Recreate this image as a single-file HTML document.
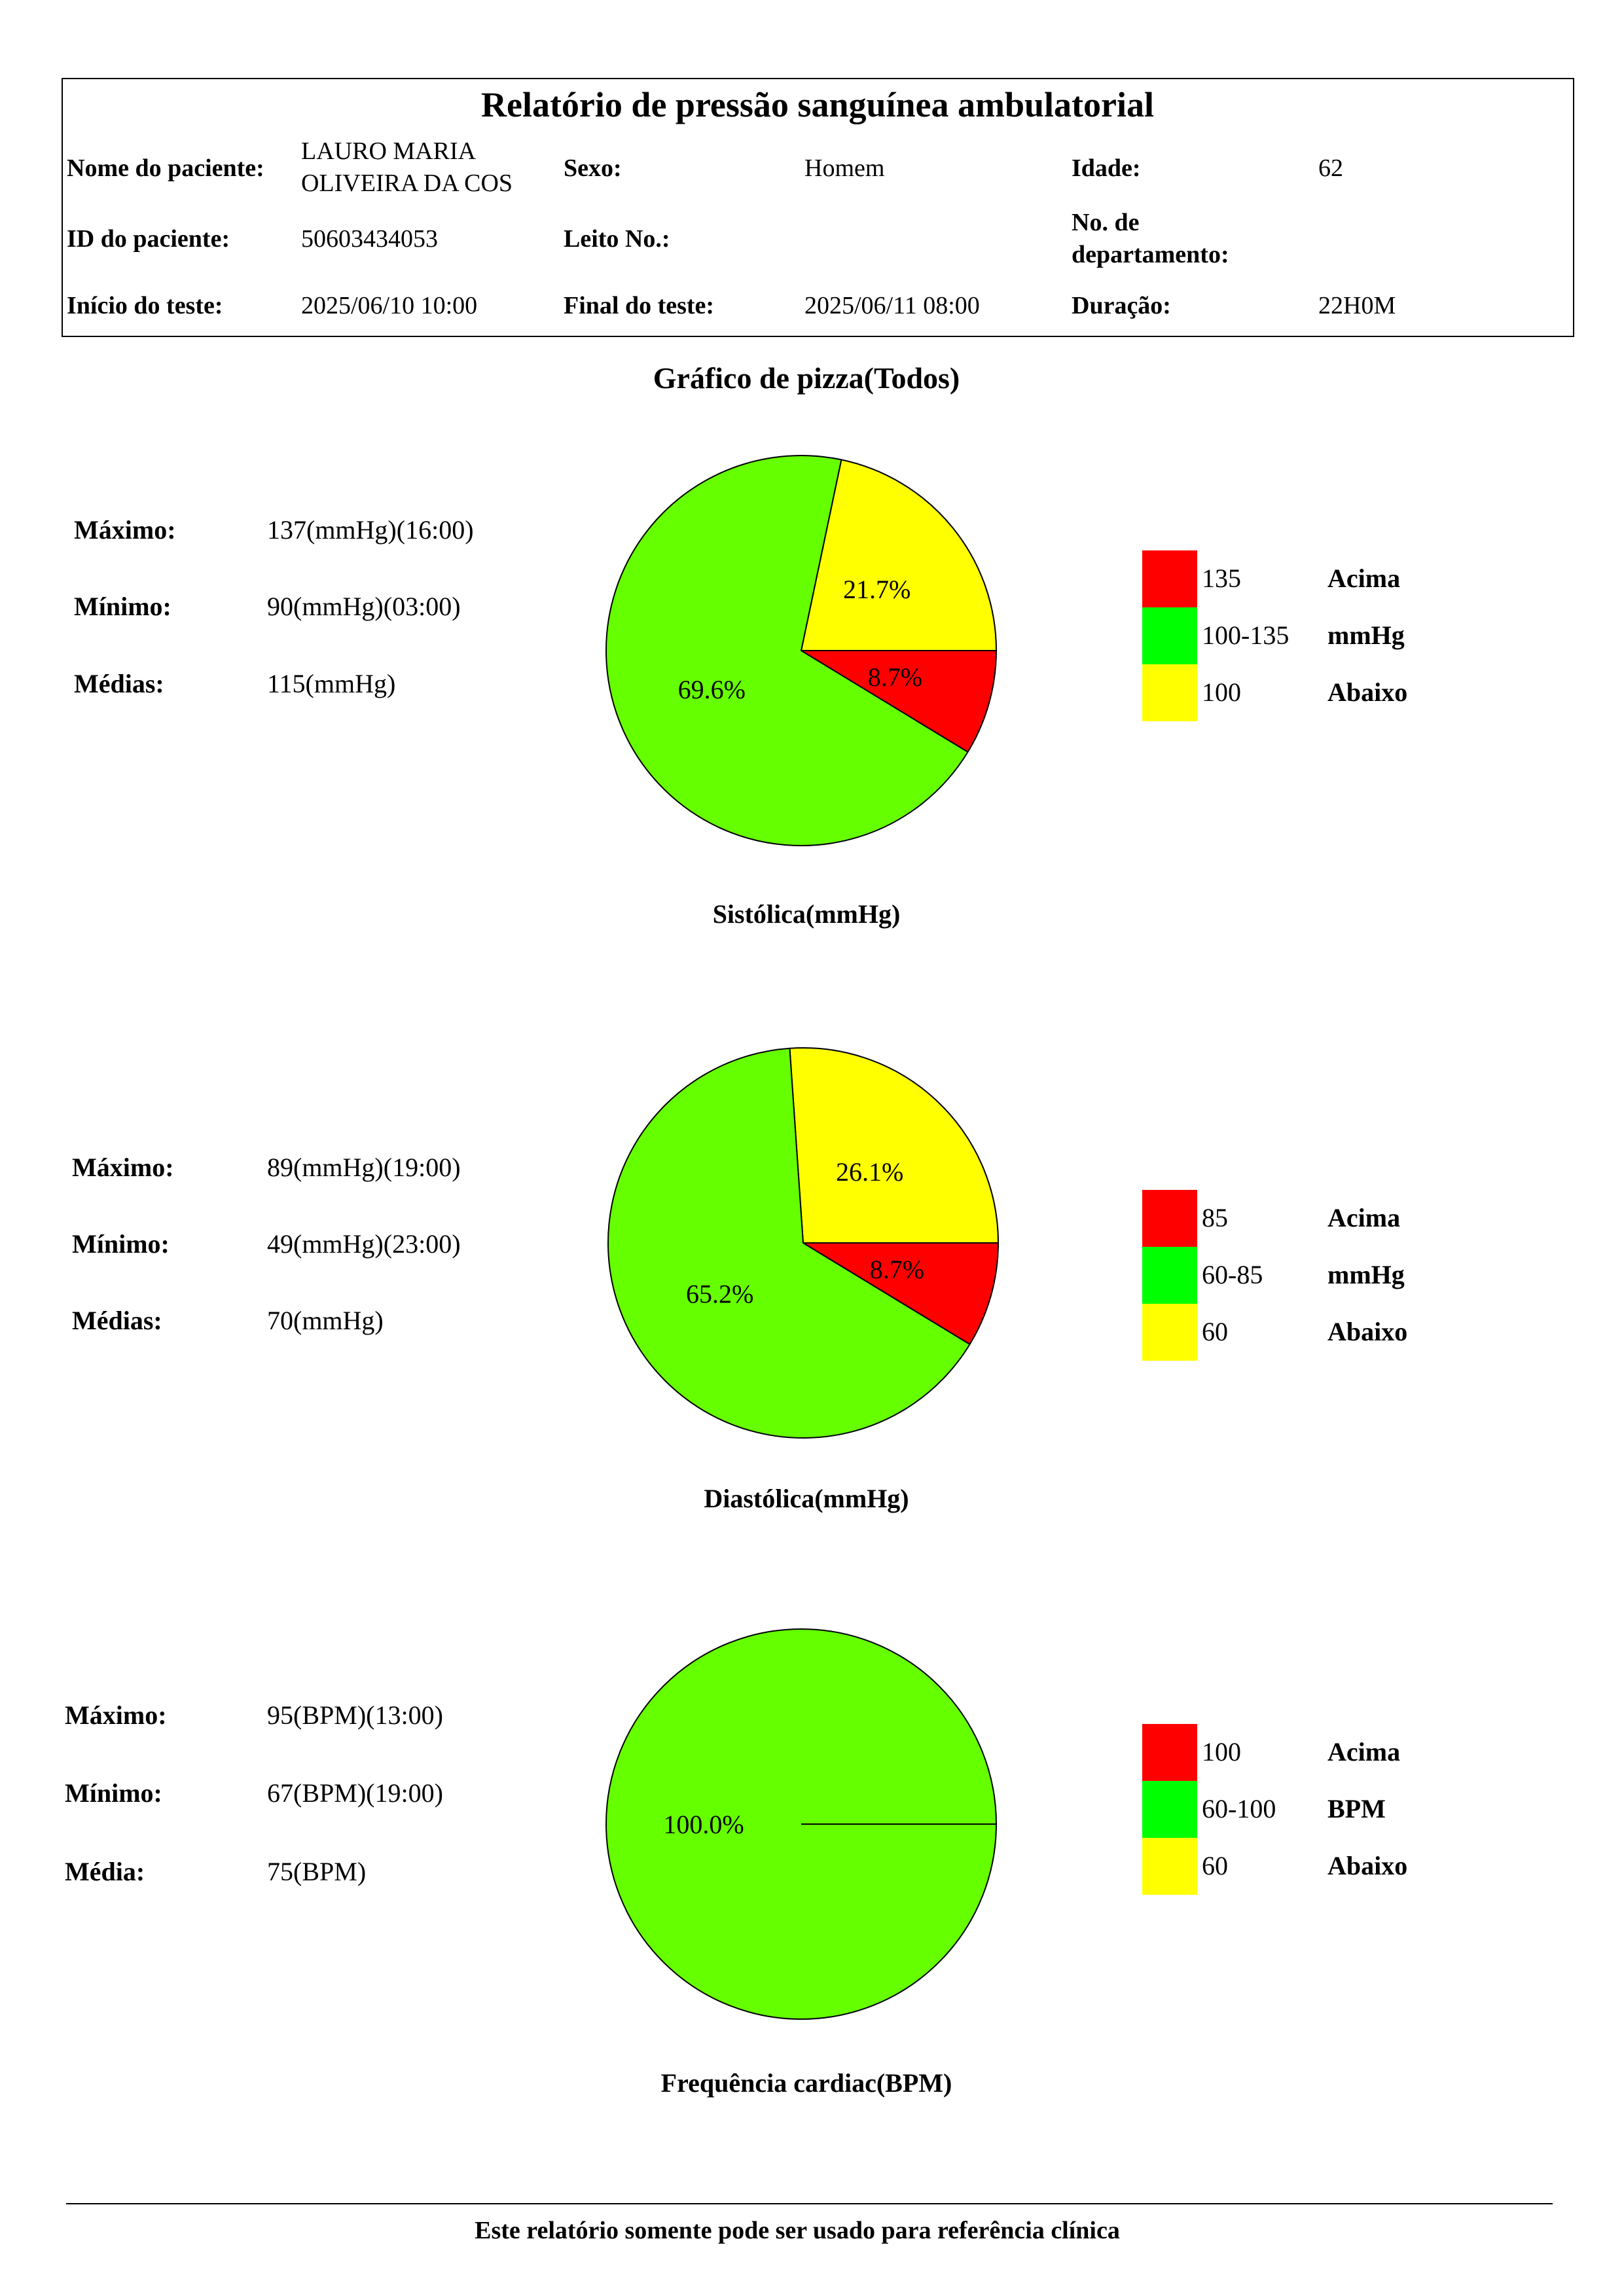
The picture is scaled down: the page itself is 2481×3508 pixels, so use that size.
<!DOCTYPE html>
<html><head><meta charset="utf-8"><style>
html,body{margin:0;padding:0;background:#fff;}
svg{display:block;font-family:"Liberation Serif",serif;}
.b{font-weight:bold;}
</style></head><body>
<svg id="page" width="2481" height="3508" viewBox="0 0 2481 3508" xmlns="http://www.w3.org/2000/svg">
<g>
<rect x="95" y="120" width="2309" height="394" fill="none" stroke="#000" stroke-width="2"/>
<text x="1249" y="178" font-size="54" class="b" text-anchor="middle">Relatório de pressão sanguínea ambulatorial</text>
<g font-size="38">
<text x="102" y="269" class="b">Nome do paciente:</text>
<text x="460" y="243">LAURO MARIA</text>
<text x="460" y="292">OLIVEIRA  DA COS</text>
<text x="861" y="269" class="b">Sexo:</text>
<text x="1229" y="269">Homem</text>
<text x="1637" y="269" class="b">Idade:</text>
<text x="2014" y="269">62</text>
<text x="102" y="377" class="b">ID do paciente:</text>
<text x="460" y="377">50603434053</text>
<text x="861" y="377" class="b">Leito No.:</text>
<text x="1637" y="352" class="b">No. de</text>
<text x="1637" y="401" class="b">departamento:</text>
<text x="102" y="479" class="b">Início do teste:</text>
<text x="460" y="479">2025/06/10 10:00</text>
<text x="861" y="479" class="b">Final do teste:</text>
<text x="1229" y="479">2025/06/11 08:00</text>
<text x="1637" y="479" class="b">Duração:</text>
<text x="2014" y="479">22H0M</text>
</g>
</g>
<text x="1232" y="593" font-size="46" class="b" text-anchor="middle">Gráfico de pizza(Todos)</text>
<g id="charts"></g>
<line x1="101" y1="3367" x2="2372" y2="3367" stroke="#000" stroke-width="2"/>
<text x="1218" y="3420" font-size="38" class="b" text-anchor="middle">Este relatório somente pode ser usado para referência clínica</text>
</svg>
<script>
// Pie data: percentages in order [yellow (below), green (normal), red (above)]
const sysValues = [21.7, 69.6, 8.7];
const diaValues = [26.1, 65.2, 8.7];
const hrValues = [0, 100.0, 0];
const sysLegend = ["135", "100-135", "100"];
const diaLegend = ["85", "60-85", "60"];
const hrLegend = ["100", "60-100", "60"];
const unitLabels = ["mmHg", "mmHg", "BPM"];
const chartTitles = ["Sistólica(mmHg)", "Diastólica(mmHg)", "Frequência cardiac(BPM)"];
const statLabels = [["Máximo:", "Mínimo:", "Médias:"], ["Máximo:", "Mínimo:", "Médias:"], ["Máximo:", "Mínimo:", "Média:"]];
const statValues = [["137(mmHg)(16:00)", "90(mmHg)(03:00)", "115(mmHg)"], ["89(mmHg)(19:00)", "49(mmHg)(23:00)", "70(mmHg)"], ["95(BPM)(13:00)", "67(BPM)(19:00)", "75(BPM)"]];

const NS = "http://www.w3.org/2000/svg";
const root = document.getElementById("charts");
const sliceColors = ["#ffff00", "#66ff00", "#ff0000"];
const legendColors = ["#ff0000", "#00ff00", "#ffff00"];
const layouts = [
  {cx:1224, cy:994, r:298, statX:113, statY:[823,940,1058], legY:841, titleY:1410},
  {cx:1227, cy:1899, r:298, statX:110, statY:[1797,1914,2031], legY:1818, titleY:2303},
  {cx:1224, cy:2787, r:298, statX:99, statY:[2634,2753,2873], legY:2634, titleY:3196}
];
const allValues = [sysValues, diaValues, hrValues];
const allLegends = [sysLegend, diaLegend, hrLegend];
function mk(tag, attrs){const e=document.createElementNS(NS,tag);for(const k in attrs)e.setAttribute(k,attrs[k]);return e;}
function pt(cx,cy,r,deg){const a=deg*Math.PI/180;return [cx+r*Math.cos(a), cy-r*Math.sin(a)];}

allValues.forEach((vals, ci) => {
  const L = layouts[ci];
  const g = mk("g", {});
  
  
  root.appendChild(g);
  const total = vals.reduce((a,b)=>a+b,0);
  let start = 0;
  vals.forEach((v, i) => {
    if (v <= 0) return;
    const sweep = v/total*360;
    let el;
    if (sweep >= 359.999) {
      el = mk("g", {});
      el.appendChild(mk("circle",{cx:L.cx,cy:L.cy,r:L.r,fill:sliceColors[i],stroke:"#000","stroke-width":2}));
      el.appendChild(mk("line",{x1:L.cx,y1:L.cy,x2:L.cx+L.r,y2:L.cy,stroke:"#000","stroke-width":2}));
    } else {
      const p1 = pt(L.cx,L.cy,L.r,start), p2 = pt(L.cx,L.cy,L.r,start+sweep);
      el = mk("path",{d:`M${L.cx},${L.cy} L${p1[0]},${p1[1]} A${L.r},${L.r} 0 ${sweep>180?1:0} 0 ${p2[0]},${p2[1]} Z`,fill:sliceColors[i],stroke:"#000","stroke-width":2,"stroke-linejoin":"round"});
    }
    
    
    g.appendChild(el);
    start += sweep;
  });
  start = 0;
  vals.forEach((v, i) => {
    if (v <= 0) return;
    const sweep = v/total*360;
    const p = pt(L.cx,L.cy,L.r*0.5,start+sweep/2);
    const t = mk("text",{x:p[0],y:p[1]+14,"font-size":40,"text-anchor":"middle"});
    t.textContent = v.toFixed(1) + "%";
    
    
    g.appendChild(t);
    start += sweep;
  });
  // title
  const tt = mk("text",{x:1232,y:L.titleY,"font-size":40,"font-weight":"bold","text-anchor":"middle"});
  tt.textContent = chartTitles[ci];
  
  
  g.appendChild(tt);
  // stats
  statLabels[ci].forEach((s, k) => {
    const a = mk("text",{x:L.statX,y:L.statY[k],"font-size":40,"font-weight":"bold"});
    a.textContent = s;
    
    
    g.appendChild(a);
    const b = mk("text",{x:408,y:L.statY[k],"font-size":40});
    b.textContent = statValues[ci][k];
    
    
    g.appendChild(b);
  });
  // legend
  const legWords = ["Acima", unitLabels[ci], "Abaixo"];
  allLegends[ci].forEach((s, k) => {
    const y0 = L.legY + k*87;
    const r = mk("rect",{x:1745,y:y0,width:84,height:87,fill:legendColors[k]});
    
    
    g.appendChild(r);
    const t1 = mk("text",{x:1836,y:y0+56,"font-size":40});
    t1.textContent = s;
    
    
    g.appendChild(t1);
    const t2 = mk("text",{x:2028,y:y0+56,"font-size":40,"font-weight":"bold"});
    t2.textContent = legWords[k];
    
    
    g.appendChild(t2);
  });
});
</script>
</body></html>
